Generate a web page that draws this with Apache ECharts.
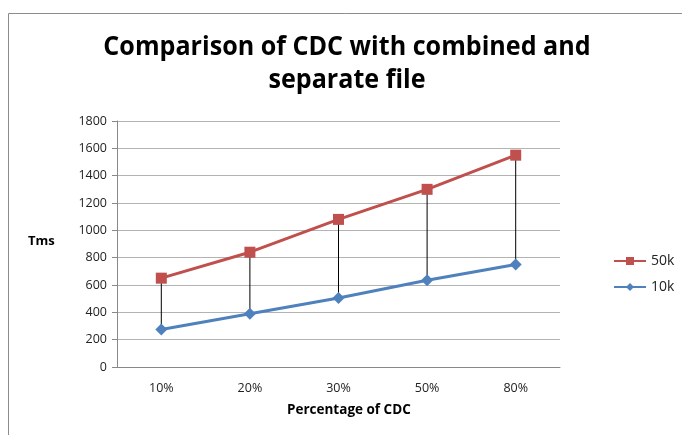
<!DOCTYPE html>
<html>
<head>
<meta charset="utf-8">
<script src="https://cdn.jsdelivr.net/npm/echarts@6/dist/echarts.min.js"></script>
<style>
  html, body { margin: 0; padding: 0; background: #fff; }
  #main { width: 682px; height: 435px; }
</style>
</head>
<body>
<div id="main"></div>
<script>
var titleText = 'Comparison of CDC with combined and\nseparate file';
var categories = ['10%', '20%', '30%', '50%', '80%'];
var values50k = [650, 840, 1080, 1300, 1550];
var values10k = [275, 390, 505, 635, 750];

var myChart = echarts.init(document.getElementById('main'));
var font = '"Open Sans", "Noto Sans", sans-serif';

var option = {
    animation: false,
    textStyle: { fontFamily: font },
    legend: {
        orient: 'vertical',
        left: 608,
        top: 249,
        itemGap: 12,
        itemWidth: 32,
        itemHeight: 10,
        textStyle: { fontFamily: font, fontSize: 14, color: '#222' },
        data: ['50k', '10k']
    },
    grid: { left: 117, right: 122, top: 121, bottom: 68 },
    xAxis: {
        type: 'category',
        data: categories,
        axisLine: { lineStyle: { color: '#888' } },
        axisTick: { show: false },
        axisLabel: { color: '#222', fontSize: 12.5, margin: 15, fontFamily: font }
    },
    yAxis: {
        type: 'value',
        min: 0,
        max: 1800,
        interval: 200,
        axisLine: { show: true, lineStyle: { color: '#888' } },
        axisTick: { show: true, length: 5, lineStyle: { color: '#888' } },
        axisLabel: {
            color: '#222', fontSize: 12.5, margin: 10, fontFamily: font,
            formatter: function (v) { return String(v); }
        },
        splitLine: { lineStyle: { color: '#b3b3b3' } }
    },
    graphic: [
        {
            type: 'rect',
            shape: { x: 8.5, y: 13.5, width: 700, height: 440 },
            style: { fill: 'none', stroke: '#8c8c8c', lineWidth: 1 },
            z: -10
        },
        {
            // chart title, squeezed a little to get Calibri's narrow width
            type: 'text',
            x: 347,
            y: 64,
            scaleX: 0.93,
            style: {
                text: titleText,
                font: 'bold 27px ' + font,
                fill: '#000',
                align: 'center',
                verticalAlign: 'middle',
                lineHeight: 33
            }
        },
        {
            type: 'text',
            left: 28,
            top: 235,
            style: { text: 'Tms', font: 'bold 13px ' + font, fill: '#000' }
        },
        {
            type: 'text',
            left: 287,
            top: 403,
            style: { text: 'Percentage of CDC', font: 'bold 13.5px ' + font, fill: '#000' }
        }
    ],
    series: [
        {
            name: 'drop',
            type: 'custom',
            z: 1,
            silent: true,
            data: categories.map(function (c, i) { return [i, values50k[i], values10k[i]]; }),
            renderItem: function (params, api) {
                var p1 = api.coord([api.value(0), api.value(1)]);
                var p2 = api.coord([api.value(0), api.value(2)]);
                return {
                    type: 'line',
                    shape: { x1: p1[0], y1: p1[1], x2: p2[0], y2: p2[1] },
                    style: { stroke: '#000', lineWidth: 1 }
                };
            }
        },
        {
            name: '50k',
            type: 'line',
            data: values50k,
            symbol: 'rect',
            symbolSize: 11,
            z: 3,
            itemStyle: { color: '#c0504d' },
            lineStyle: { color: '#c0504d', width: 3 }
        },
        {
            name: '10k',
            type: 'line',
            data: values10k,
            symbol: 'diamond',
            symbolSize: 12,
            z: 3,
            itemStyle: { color: '#4f81bd' },
            lineStyle: { color: '#4f81bd', width: 3 }
        }
    ]
};

myChart.setOption(option);
</script>
</body>
</html>
